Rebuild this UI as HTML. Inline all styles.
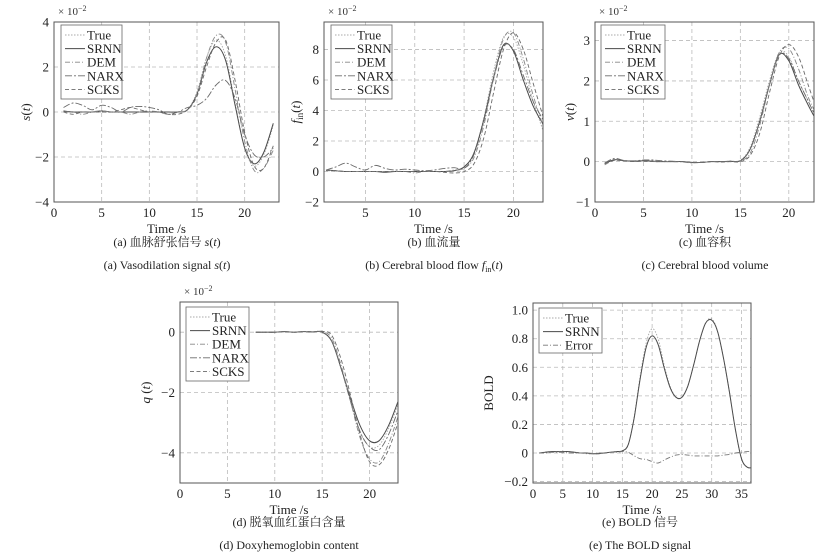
<!DOCTYPE html>
<html><head><meta charset="utf-8">
<style>
body{margin:0;background:#fff;}
svg{display:block;font-family:"Liberation Serif","Noto Serif CJK SC",serif;}
</style></head>
<body>
<svg id="fig" width="833" height="559" viewBox="0 0 833 559" xmlns="http://www.w3.org/2000/svg"></svg>
<script>
// ---- data (panel a: vasodilation s(t), x1e-2) ----
const tA = [1,2,3,4,5,6,7,8,9,10,11,12,13,14,15,16,17,18,19,20,21,22,23];
const aTrue = [0,0,0,0,0,0,0,0,0,0,0,0,0,0.1,0.9,2.4,3.2,2.5,0.4,-1.6,-2.4,-1.9,-0.6];
const aSRNN = [0.05,0,0,0,0.05,0,0,0,0,0,0,0,0,0.1,0.8,2.2,2.9,2.3,0.3,-1.6,-2.3,-1.8,-0.5];
const aDEM  = [0,0,-0.1,0,0.05,0,0,-0.1,0,0.05,0,-0.1,0,0.1,0.8,2.4,3.4,3.1,1.0,-1.3,-2.6,-2.5,-1.7];
const aNARX = [0.2,0.4,0.3,0.1,0.3,0.2,0,0.2,0.25,0.2,0.1,-0.1,0,0.2,0.3,0.6,1.2,1.4,0.6,-1.0,-1.9,-2.0,-1.6];
const aSCKS = [0,-0.1,0,0,0,0,0.1,0.2,0.1,0,0,-0.1,-0.1,0.1,0.7,2.0,3.1,3.2,1.4,-0.9,-2.4,-2.5,-1.5];
// ---- panel b: blood flow f_in(t) ----
const tB = [1,2,3,4,5,6,7,8,9,10,11,12,13,14,15,16,17,18,19,20,21,22,23];
const bTrue = [0.1,0.05,0,0,0,0,0,0,0,0,0,0,0,0.05,0.3,1.2,3.5,6.6,8.8,8.8,7.0,4.6,2.7];
const bSRNN = [0.1,0.05,0,0,0,0,-0.05,0,0,0,0,0,0,0.05,0.3,1.2,3.4,6.2,8.3,7.9,6.0,4.3,3.1];
const bDEM  = [0.1,0.05,0,0,0,0,0,0,0,-0.1,0,0,0,0.1,0.2,0.9,3.0,6.2,8.7,9.1,7.4,5.0,3.0];
const bNARX = [0.1,0.3,0.55,0.3,0.1,0.4,0.2,0.1,0.15,0.1,0.05,0.1,0.2,0.25,0.2,1.1,3.3,6.1,8.2,8.0,6.3,4.6,3.4];
const bSCKS = [0.05,0.05,0,0,0,0,0,0,0,0,0,0,-0.05,-0.1,0,0.5,2.2,5.2,8.0,9.1,8.0,5.8,3.6];
// ---- panel c: blood volume v(t) ----
const tC = [1,2,3,4,5,6,7,8,9,10,11,12,13,14,15,16,17,18,19,20,21,22,23];
const cTrue = [-0.05,0.05,0.02,0.01,0.02,0.01,0,0,0,-0.02,-0.02,0,0,0.01,0.03,0.35,1.1,2.0,2.7,2.6,2.0,1.5,1.0];
const cSRNN = [-0.05,0.05,0.02,0.01,0.02,0.01,0,0,0,-0.02,-0.02,0,0,0.01,0.02,0.3,1.0,1.9,2.65,2.5,1.9,1.4,0.95];
const cDEM  = [-0.08,0.04,0.02,0,0.01,0,0,0,-0.01,-0.03,-0.02,0,0,0,0.02,0.2,0.9,1.9,2.7,2.8,2.3,1.6,1.1];
const cNARX = [-0.03,0.08,0.03,0.02,0.04,0.04,0.02,0.01,0,-0.02,-0.02,0,0,0.01,0.03,0.3,1.0,1.9,2.65,2.55,2.0,1.5,1.0];
const cSCKS = [-0.05,0.03,0.02,0,0.01,0,0,0,0,-0.02,-0.02,0,-0.01,0,0,0.15,0.7,1.7,2.6,2.9,2.6,1.9,1.2];
// ---- panel d: deoxyhemoglobin q(t) ----
const tD = [8,9,10,11,12,13,14,15,16,17,18,19,20,21,22,23];
const dTrue = [0,0,0,0.02,0,0.02,0.01,0,-0.3,-1.2,-2.3,-3.3,-3.8,-3.75,-3.2,-2.4];
const dSRNN = [0,0,0,0.02,0,0.02,0.01,0,-0.3,-1.2,-2.2,-3.1,-3.6,-3.6,-3.1,-2.3];
const dDEM  = [0,0,0,0.02,0,0.02,0.01,0.02,-0.2,-1.1,-2.3,-3.5,-4.2,-4.3,-3.7,-2.8];
const dNARX = [0,0,0,0.02,0,0.02,0.01,0,-0.3,-1.2,-2.3,-3.3,-3.8,-3.9,-3.4,-2.6];
const dSCKS = [0,0,0,0.02,0,0.02,0.01,0.03,-0.1,-0.9,-2.1,-3.4,-4.3,-4.4,-3.9,-3.0];
// ---- panel e: BOLD ----
const tE = [1,2,3,4,5,6,7,8,9,10,11,12,13,14,15,16,17,18,19,20,21,22,23,24,25,26,27,28,29,30,31,32,33,34,35,36,37];
const eTrue = [0,0.005,0.01,0.01,0.01,0.01,0.005,0,0,-0.005,-0.005,0,0.005,0.01,0.015,0.06,0.26,0.54,0.77,0.87,0.8,0.62,0.47,0.39,0.39,0.47,0.62,0.79,0.91,0.94,0.85,0.66,0.42,0.16,-0.04,-0.1,-0.1];
const eSRNN = [0,0.005,0.01,0.01,0.01,0.01,0.005,0,0,-0.005,-0.005,0,0.005,0.01,0.015,0.06,0.25,0.52,0.74,0.82,0.76,0.6,0.46,0.39,0.39,0.47,0.62,0.79,0.91,0.93,0.85,0.66,0.42,0.16,-0.04,-0.1,-0.1];
const eErr  = [0,0,0.005,0.005,0.005,0,0,0,-0.005,-0.005,0,0,0.005,0.005,0.01,0.005,-0.02,-0.04,-0.045,-0.06,-0.07,-0.05,-0.03,-0.015,-0.01,-0.015,-0.02,-0.02,-0.02,-0.02,-0.02,-0.015,-0.01,0,0.005,0.01,0.01];
// tick arrays
const aXT=[0,5,10,15,20], aYT=[-4,-2,0,2,4];
const bXT=[5,10,15,20], bYT=[-2,0,2,4,6,8];
const cXT=[0,5,10,15,20], cYT=[-1,0,1,2,3];
const dXT=[0,5,10,15,20], dYT=[-4,-2,0];
const eXT=[0,5,10,15,20,25,30,35], eYT=[-0.2,0,0.2,0.4,0.6,0.8,1.0];
const eYL=["\u22120.2","0","0.2","0.4","0.6","0.8","1.0"];

const NS="http://www.w3.org/2000/svg";
const svg=document.getElementById('fig');
function el(tag,attrs,parent){const e=document.createElementNS(NS,tag);for(const k in attrs)e.setAttribute(k,attrs[k]);(parent||svg).appendChild(e);return e;}
function fmt(v){return v<0?"\u2212"+Math.abs(v):String(v);}
const STY={
 true:{stroke:"#a8a8a8",dash:"1.5,1.5",w:0.9},
 srnn:{stroke:"#4a4a4a",dash:"",w:1},
 dem:{stroke:"#888",dash:"5,2,1,2",w:0.9},
 narx:{stroke:"#6a6a6a",dash:"7,2,2,2",w:0.9},
 scks:{stroke:"#6a6a6a",dash:"4,2.5",w:0.9},
 err:{stroke:"#777",dash:"5,2,1,2",w:0.9}
};
function smooth(pts){let d="M"+pts[0][0].toFixed(1)+","+pts[0][1].toFixed(1);
 for(let i=0;i<pts.length-1;i++){const p0=pts[Math.max(0,i-1)],p1=pts[i],p2=pts[i+1],p3=pts[Math.min(pts.length-1,i+2)];
  const c1=[p1[0]+(p2[0]-p0[0])/6,p1[1]+(p2[1]-p0[1])/6],c2=[p2[0]-(p3[0]-p1[0])/6,p2[1]-(p3[1]-p1[1])/6];
  d+="C"+c1[0].toFixed(1)+","+c1[1].toFixed(1)+" "+c2[0].toFixed(1)+","+c2[1].toFixed(1)+" "+p2[0].toFixed(1)+","+p2[1].toFixed(1);}
 return d;}
let cid=0;
function panel(c){
 const g=el('g',{});
 
 
 const X=v=>c.L+(v-c.x0)/(c.x1-c.x0)*(c.R-c.L), Y=v=>c.B-(v-c.y0)/(c.y1-c.y0)*(c.B-c.T);
 c.xt.forEach(v=>{const x=X(v);if(x>c.L+1&&x<c.R-1){const l=el('line',{x1:x,x2:x,y1:c.T,y2:c.B,stroke:"#bbb","stroke-dasharray":"4,3","stroke-width":0.8},g);}});
 c.yt.forEach(v=>{const y=Y(v);if(y>c.T+1&&y<c.B-1){const l=el('line',{x1:c.L,x2:c.R,y1:y,y2:y,stroke:"#bbb","stroke-dasharray":"4,3","stroke-width":0.8},g);}});
 const clip=el('clipPath',{id:'cp'+(++cid)},g);el('rect',{x:c.L,y:c.T,width:c.R-c.L,height:c.B-c.T},clip);
 c.series.forEach(s=>{const st=STY[s.k];const pts=c.t.map((t,i)=>[X(t),Y(s.v[i])]);
  const p=el('path',{d:smooth(pts),fill:"none",stroke:st.stroke,"stroke-width":st.w,"stroke-dasharray":st.dash,"clip-path":"url(#cp"+cid+")"},g);
  
  });
 const bx=el('rect',{x:c.L,y:c.T,width:c.R-c.L,height:c.B-c.T,fill:"none",stroke:"#555","stroke-width":1},g);
 
 
 c.xt.forEach(v=>{const t=el('text',{x:X(v),y:c.B+15,"text-anchor":"middle","font-size":13,fill:"#222"},g);t.textContent=fmt(v);
  });
 c.yt.forEach((v,i)=>{const t=el('text',{x:c.L-5,y:Y(v)+4.5,"text-anchor":"end","font-size":13,fill:"#222"},g);t.textContent=c.yl?c.yl[i]:fmt(v);
  });
 if(c.exp){const t=el('text',{x:c.L+4,y:c.T-7,"font-size":11,fill:"#333"},g);t.innerHTML='\u00d7 10<tspan dy="-4" font-size="8">\u22122</tspan>';
  }
 const xt=el('text',{x:(c.L+c.R)/2,y:c.B+31,"text-anchor":"middle","font-size":13,fill:"#222"},g);xt.textContent="Time /s";
 
 const ya=el('text',{x:0,y:0,"text-anchor":"middle","font-size":13,fill:"#222",transform:`translate(${c.yx},${(c.T+c.B)/2}) rotate(-90)`},g);ya.innerHTML=c.ylab;
 
 const lg=el('g',{},g);
 el('rect',{x:c.lg[0],y:c.lg[1],width:c.lg[2],height:c.lg[3],fill:"#fff",stroke:"#666","stroke-width":0.8},lg);
 c.series.forEach((s,i)=>{const st=STY[s.k];const yy=c.lg[1]+10+i*13.6;
  const e=el('g',{},lg);
  el('line',{x1:c.lg[0]+4,x2:c.lg[0]+24,y1:yy,y2:yy,stroke:st.stroke,"stroke-width":st.w,"stroke-dasharray":st.dash},e);
  const t=el('text',{x:c.lg[0]+26,y:yy+4.5,"font-size":13,fill:"#222"},e);t.textContent=s.label;});
 c.cap.forEach((txt,i)=>{const t=el('text',{x:c.cx,y:c.capY+i*23,"text-anchor":"middle","font-size":12,fill:"#222"},g);t.innerHTML=txt;
  });
}
const five=(a,b,c,d,e)=>[{k:'true',v:a,label:'True'},{k:'srnn',v:b,label:'SRNN'},{k:'dem',v:c,label:'DEM'},{k:'narx',v:d,label:'NARX'},{k:'scks',v:e,label:'SCKS'}];
panel({name:'panel-a-vasodilation',L:54,R:279,T:22,B:202,x0:0,x1:23.6,y0:-4,y1:4,xt:aXT,yt:aYT,t:tA,exp:1,yx:30,
 ylab:'<tspan font-style="italic">s</tspan>(<tspan font-style="italic">t</tspan>)',series:five(aTrue,aSRNN,aDEM,aNARX,aSCKS),
 lg:[61,25,61,74],cx:167,capY:246,cap:['(a) 血脉舒张信号 <tspan font-style="italic">s</tspan>(<tspan font-style="italic">t</tspan>)','(a) Vasodilation signal <tspan font-style="italic">s</tspan>(<tspan font-style="italic">t</tspan>)']});
panel({name:'panel-b-blood-flow',L:324,R:543,T:22,B:202,x0:0.8,x1:23,y0:-2,y1:9.8,xt:bXT,yt:bYT,t:tB,exp:1,yx:300,
 ylab:'<tspan font-style="italic">f</tspan><tspan font-size="9" dy="3">in</tspan><tspan dy="-3">(</tspan><tspan font-style="italic">t</tspan>)',series:five(bTrue,bSRNN,bDEM,bNARX,bSCKS),
 lg:[331,25,61,74],cx:434,capY:246,cap:['(b) 血流量','(b) Cerebral blood flow <tspan font-style="italic">f</tspan><tspan font-size="8" dy="3">in</tspan><tspan dy="-3">(</tspan><tspan font-style="italic">t</tspan>)']});
panel({name:'panel-c-blood-volume',L:595,R:814,T:22,B:202,x0:0,x1:22.6,y0:-1,y1:3.46,xt:cXT,yt:cYT,t:tC,exp:1,yx:574,
 ylab:'<tspan font-style="italic">v</tspan>(<tspan font-style="italic">t</tspan>)',series:five(cTrue,cSRNN,cDEM,cNARX,cSCKS),
 lg:[601,25,64,74],cx:705,capY:246,cap:['(c) 血容积','(c) Cerebral blood volume']});
panel({name:'panel-d-deoxyhemoglobin',L:180,R:398,T:302,B:483,x0:0,x1:23,y0:-5,y1:1,xt:dXT,yt:dYT,t:tD,exp:1,yx:150,
 ylab:'<tspan font-style="italic">q</tspan> (<tspan font-style="italic">t</tspan>)',series:five(dTrue,dSRNN,dDEM,dNARX,dSCKS),
 lg:[186,307,63,74],cx:289,capY:526,cap:['(d) 脱氧血红蛋白含量','(d) Doxyhemoglobin content']});
panel({name:'panel-e-bold',L:533,R:751,T:303,B:483,x0:0,x1:36.6,y0:-0.21,y1:1.05,xt:eXT,yt:eYT,yl:eYL,t:tE,exp:0,yx:493,
 ylab:'BOLD',series:[{k:'true',v:eTrue,label:'True'},{k:'srnn',v:eSRNN,label:'SRNN'},{k:'err',v:eErr,label:'Error'}],
 lg:[539,308,63,45],cx:640,capY:526,cap:['(e) BOLD 信号','(e) The BOLD signal']});
</script>
</body></html>
